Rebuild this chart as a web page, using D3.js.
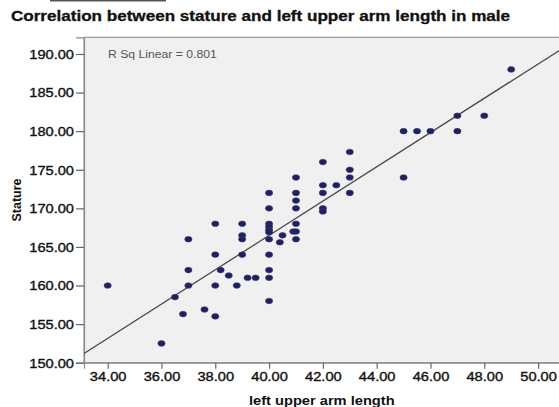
<!DOCTYPE html>
<html>
<head>
<meta charset="utf-8">
<script src="https://cdn.jsdelivr.net/npm/d3@7"></script>
<style>
    body { margin: 0; background: #ffffff; }
    text { font-family: "Liberation Sans", Arial, sans-serif; }
</style>
</head>
<body>
<script>
// left upper arm length (x) of each male subject
var armLength = [
    34, 36, 36.5, 36.8, 37, 37, 37, 37.6, 38, 38, 38, 38, 38.2, 38.5, 38.8,
    39, 39, 39, 39, 39.2, 39.5,
    40, 40, 40, 40, 40, 40, 40, 40, 40, 40, 40, 40.4, 40.5,
    41, 41, 41, 41, 41, 40.9, 41, 41,
    42, 42, 42, 42, 42, 42.5,
    43, 43, 43, 43,
    45, 45.5, 46, 47, 47, 48, 49, 45
];

// stature of the same subjects (same order)
var stature = [
    160, 152.5, 158.5, 156.3, 166, 162, 160, 156.9, 168, 164, 160, 156, 162, 161.3, 160,
    168, 166.5, 166, 164, 161, 161,
    172, 170, 168, 167.6, 167.2, 166.9, 166, 164, 162, 161, 158, 165.6, 166.5,
    174, 172, 171, 170, 168, 167, 167, 166,
    176, 173, 172, 170, 169.6, 173,
    177.3, 175, 174, 172,
    180, 180, 180, 180, 182, 182, 188, 174
];

var xTicks = [34, 36, 38, 40, 42, 44, 46, 48, 50];
var yTicks = [150, 155, 160, 165, 170, 175, 180, 185, 190];
var rSquared = "0.801";

window.onload = function(){

    var w = 559, h = 407;
    var stretchK = 1.22; //the picture is a bit wider than tall, so text gets widened

    var svg = d3.select("body")
        .append("svg")
        .attr("width", w)
        .attr("height", h);

    //widen a text so it looks like the reference
    function widen(sel, k){
        sel.each(function(){
            var len = this.getComputedTextLength();
            d3.select(this)
                .attr("textLength", len * k)
                .attr("lengthAdjust", "spacingAndGlyphs");
        });
    }

    //scales
    var x = d3.scaleLinear()
        .domain([33.12, 50.8])
        .range([84, 559.6]);

    var y = d3.scaleLinear()
        .domain([150, 192.16])
        .range([362.7, 37.3]);

    //small dark line at the very top (crop of the page above)
    svg.append("rect")
        .attr("x", 50)
        .attr("y", 0)
        .attr("width", 116)
        .attr("height", 1.5)
        .style("fill", "#555555");

    //title
    var title = svg.append("text")
        .attr("x", 260.5)
        .attr("y", 21)
        .attr("text-anchor", "middle")
        .style("font-weight", "bold")
        .style("font-size", "14px")
        .style("fill", "#111111")
        .style("stroke", "#111111")
        .style("stroke-width", 0.3)
        .text("Correlation between stature and left upper arm length in male");
    widen(title, stretchK);

    //plot frame
    svg.append("rect")
        .attr("x", x.range()[0])
        .attr("y", y.range()[1])
        .attr("width", x.range()[1] - x.range()[0])
        .attr("height", y.range()[0] - y.range()[1])
        .style("fill", "#f0f0f0")
        .style("stroke", "#9a9a9a")
        .style("stroke-width", 1.2);

    //axes
    var xAxis = svg.append("g")
        .attr("class", "axis")
        .attr("transform", "translate(0," + y.range()[0] + ")")
        .call(d3.axisBottom(x).tickValues(xTicks).tickSize(6).tickPadding(4)
            .tickFormat(d3.format(".2f")));

    var yAxis = svg.append("g")
        .attr("class", "axis")
        .attr("transform", "translate(" + x.range()[0] + ",0)")
        .call(d3.axisLeft(y).tickValues(yTicks).tickSize(8).tickPadding(2)
            .tickFormat(d3.format(".2f")));

    svg.selectAll(".axis path").style("stroke", "#8a8a8a").style("stroke-width", 1.2);
    svg.selectAll(".axis line").style("stroke", "#666666").style("stroke-width", 1.2);
    svg.selectAll(".axis text")
        .style("font-family", "'Liberation Sans', Arial, sans-serif")
        .style("font-size", "12px")
        .style("fill", "#111111")
        .style("stroke", "#111111")
        .style("stroke-width", 0.35);
    xAxis.selectAll("text").attr("dy", "0.71em");
    yAxis.selectAll("text").attr("dy", "0.36em");
    widen(svg.selectAll(".axis text"), stretchK);

    //least squares fit line
    var mx = d3.mean(armLength), my = d3.mean(stature);
    var sxy = d3.sum(armLength, function(d, i){ return (d - mx) * (stature[i] - my); });
    var sxx = d3.sum(armLength, function(d){ return (d - mx) * (d - mx); });
    var slope = sxy / sxx;
    var intercept = my - slope * mx;
    var fitX = x.domain();

    svg.append("clipPath")
        .attr("id", "plotClip")
        .append("rect")
        .attr("x", x.range()[0])
        .attr("y", y.range()[1])
        .attr("width", x.range()[1] - x.range()[0])
        .attr("height", y.range()[0] - y.range()[1]);

    svg.append("line")
        .attr("clip-path", "url(#plotClip)")
        .attr("x1", x(fitX[0]))
        .attr("y1", y(intercept + slope * fitX[0]))
        .attr("x2", x(fitX[1]))
        .attr("y2", y(intercept + slope * fitX[1]))
        .style("stroke", "#4a4a4a")
        .style("stroke-width", 1.3);

    //points
    svg.selectAll(".dots")
        .data(armLength)
        .enter()
        .append("ellipse")
        .attr("class", "dots")
        .attr("cx", function(d){ return x(d); })
        .attr("cy", function(d, i){ return y(stature[i]); })
        .attr("rx", 3.6)
        .attr("ry", 2.8)
        .style("fill", "#1e1e6e")
        .style("stroke", "#3a3a55")
        .style("stroke-width", 0.6);

    //R square note
    var note = svg.append("text")
        .attr("x", 108)
        .attr("y", 57.6)
        .style("font-size", "10px")
        .style("fill", "#555555")
        .text("R Sq Linear = " + rSquared);
    widen(note, stretchK);

    //axis titles
    var xTitle = svg.append("text")
        .attr("x", (x.range()[0] + x.range()[1]) / 2)
        .attr("y", 405)
        .attr("text-anchor", "middle")
        .style("font-weight", "bold")
        .style("font-size", "12px")
        .style("fill", "#111111")
        .text("left upper arm length");
    widen(xTitle, stretchK);

    svg.append("text")
        .attr("transform", "translate(21,200) rotate(-90)")
        .attr("text-anchor", "middle")
        .style("font-weight", "bold")
        .style("font-size", "12.5px")
        .style("fill", "#111111")
        .text("Stature");
};
</script>
</body>
</html>
